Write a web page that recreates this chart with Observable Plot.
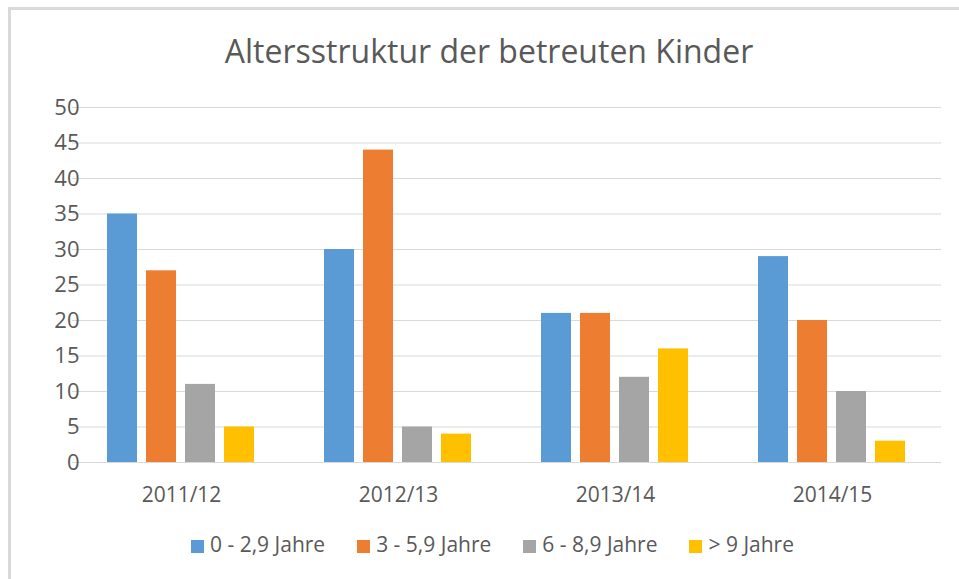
<!DOCTYPE html>
<html>
<head>
<meta charset="utf-8">
<script src="https://cdn.jsdelivr.net/npm/d3@7"></script>
<script src="https://cdn.jsdelivr.net/npm/@observablehq/plot@0.6"></script>
<style>
  html, body { margin: 0; padding: 0; background: #fff; }
  #frame { position: relative; width: 959px; height: 579px; overflow: hidden; font-family: "Open Sans", sans-serif; color: #595959; }
  #border { position: absolute; left: 8px; top: 7px; width: 960px; height: 580px; border-left: 3px solid #d9d9d9; border-top: 3px solid #d9d9d9; }
  #title { position: absolute; left: 0; top: 31px; width: 978px; text-align: center; font-size: 32px; line-height: 40px; }
  #grid, #chart { position: absolute; left: 0; top: 90px; }
  #legend { position: absolute; left: 191px; top: 532px; display: flex; gap: 32px; font-size: 21px; line-height: 24px; white-space: nowrap; }
  #legend .item { display: flex; align-items: center; }
  #legend .sw { width: 13px; height: 13px; margin-right: 6px; position: relative; top: 2px; }
</style>
</head>
<body>
<div id="frame">
  <div id="border"></div>
  <div id="title"></div>
  <div id="grid"></div>
  <div id="chart"></div>
  <div id="legend"></div>
</div>
<script>
const title = "Altersstruktur der betreuten Kinder";
const years = ["2011/12", "2012/13", "2013/14", "2014/15"];
const series = ["0 - 2,9 Jahre", "3 - 5,9 Jahre", "6 - 8,9 Jahre", "> 9 Jahre"];
const values0 = [35, 30, 21, 29];
const values1 = [27, 44, 21, 20];
const values2 = [11, 5, 12, 10];
const values3 = [5, 4, 16, 3];
const colors = ["#5B9BD5", "#ED7D31", "#A5A5A5", "#FFC000"];
const yTicks = [0, 5, 10, 15, 20, 25, 30, 35, 40, 45, 50];

const seriesValues = [values0, values1, values2, values3];
const data = [];
years.forEach((year, i) => {
  series.forEach((s, j) => {
    data.push({ year, series: s, value: seriesValues[j][i] });
  });
});

document.getElementById("title").textContent = title;

const layout = {
  width: 959,
  height: 425,
  marginTop: 17,
  marginBottom: 53,
  marginLeft: 72,
  marginRight: 18
};

// background layer: full-width horizontal gridlines
const grid = Plot.plot({
  ...layout,
  style: { background: "transparent" },
  y: { domain: [0, 50], axis: null },
  marks: [
    Plot.ruleY(yTicks, { stroke: "#d9d9d9", strokeWidth: 1.2, strokeOpacity: 1 })
  ]
});
document.getElementById("grid").appendChild(grid);

const chart = Plot.plot({
  ...layout,
  style: { fontFamily: "Open Sans, sans-serif", color: "#595959", background: "transparent" },
  fx: { domain: years, paddingInner: 0.234, paddingOuter: 0.117, label: null },
  x: { domain: series, padding: 0.22, axis: null },
  y: { domain: [0, 50], label: null },
  color: { domain: series, range: colors },
  marks: [
    Plot.barY(data, { fx: "year", x: "series", y: "value", fill: "series" }),
    Plot.axisY({ ticks: yTicks, tickSize: 0, tickPadding: 19, fontSize: 22, label: null, fill: "#595959" }),
    Plot.axisFx({ anchor: "bottom", tickSize: 0, tickPadding: 25, fontSize: 21, label: null, fill: "#595959" })
  ]
});
document.getElementById("chart").appendChild(chart);

const legend = document.getElementById("legend");
series.forEach((s, i) => {
  const item = document.createElement("div");
  item.className = "item";
  const sw = document.createElement("span");
  sw.className = "sw";
  sw.style.background = colors[i];
  const lab = document.createElement("span");
  lab.textContent = s;
  item.appendChild(sw);
  item.appendChild(lab);
  legend.appendChild(item);
});
</script>
</body>
</html>
